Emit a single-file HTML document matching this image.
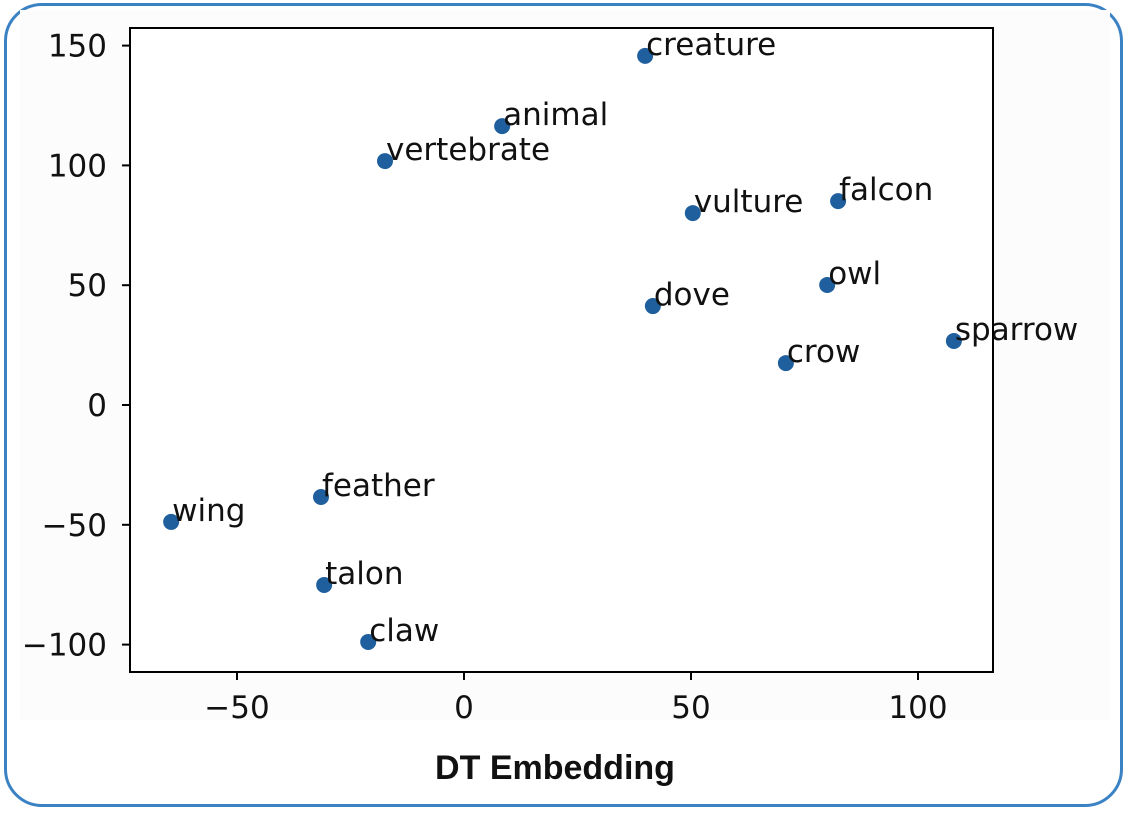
<!DOCTYPE html>
<html><head><meta charset="utf-8"><style>
html,body{margin:0;padding:0;background:#fff;}
#wrap{position:relative;width:1133px;height:819px;overflow:hidden;font-family:"DejaVu Sans",sans-serif;}
#frame{position:absolute;left:4px;top:3px;width:1119px;height:804px;border:3px solid #3b82c4;border-radius:38px;box-sizing:border-box;}
</style></head><body>
<div id="wrap">
<div id="frame"></div>
<svg id="chart" width="1133" height="819" style="position:absolute;left:0;top:0">
<rect x="20" y="10" width="1090" height="710" fill="#fcfcfc"/>
<rect x="130" y="28" width="863" height="644" fill="#fff"/>
<g id="marks"></g>
<rect x="130" y="28" width="863" height="644" fill="none" stroke="#000" stroke-width="2"/>
<g id="axes"></g>
<text x="555" y="779" text-anchor="middle" font-size="34" font-weight="bold" fill="#111" font-family="Liberation Sans, sans-serif">DT Embedding</text>
</svg>
</div>
<script>
const words = ["creature","animal","vertebrate","vulture","falcon","owl","dove","sparrow","crow","feather","wing","talon","claw"];
const xVals = [39.9,8.4,-17.4,50.4,82.4,80,41.6,107.9,70.9,-31.5,-64.5,-30.8,-21.1];
const yVals = [145.7,116.4,101.8,80.1,85.1,50.1,41.3,26.7,17.5,-38.4,-48.8,-75.1,-98.9];
const xTicks = [-50,0,50,100];
const yTicks = [150,100,50,0,-50,-100];
const xScale = v => 464 + v*4.54;
const yScale = v => 405 - v*2.396;
const NS="http://www.w3.org/2000/svg";
const marks=document.getElementById('marks'), axes=document.getElementById('axes');
function mk(tag,attrs,parent){const e=document.createElementNS(NS,tag);for(const k in attrs)e.setAttribute(k,attrs[k]);parent.appendChild(e);return e;}
words.forEach((w,i)=>{
  const cx=xScale(xVals[i]), cy=yScale(yVals[i]);
  const c=mk('circle',{cx:cx,cy:cy,r:8,fill:'#1f5f9e'},marks);
  
  
  const t=mk('text',{x:cx+1,y:cy-1,'font-size':31,fill:'#111'},marks);
  t.textContent=w;
  
  
});
const fmt=v=>v<0?'\u2212'+Math.abs(v):String(v);
xTicks.forEach(v=>{
  const x=xScale(v);
  const l=mk('line',{x1:x,x2:x,y1:672,y2:680,stroke:'#000','stroke-width':2},axes);
  
  
  const t=mk('text',{x:x,y:718,'text-anchor':'middle','font-size':31,fill:'#111'},axes);
  t.textContent=fmt(v);
  
  
});
yTicks.forEach(v=>{
  const y=yScale(v);
  const l=mk('line',{x1:122,x2:130,y1:y,y2:y,stroke:'#000','stroke-width':2},axes);
  
  
  const t=mk('text',{x:107,y:y+11,'text-anchor':'end','font-size':31,fill:'#111'},axes);
  t.textContent=fmt(v);
  
  
});
</script>
</body></html>
